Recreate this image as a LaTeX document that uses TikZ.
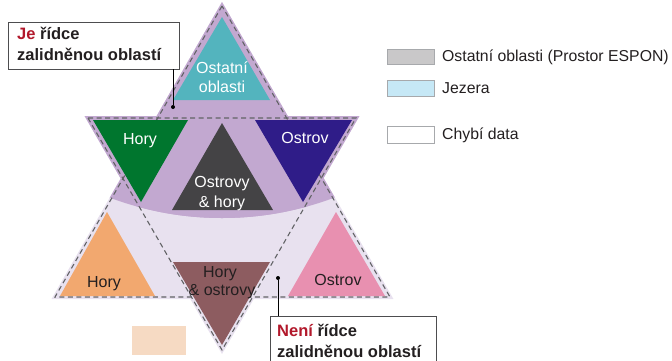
\documentclass[tikz,border=0pt]{standalone}
\usepackage{fontspec}
\setmainfont{Liberation Sans}
\definecolor{lilac}{HTML}{C2A8D0}
\definecolor{lav}{HTML}{E8E1EF}
\definecolor{teal1}{HTML}{53B4BE}
\definecolor{green1}{HTML}{00762E}
\definecolor{indigo1}{HTML}{2F1C88}
\definecolor{dgray}{HTML}{444345}
\definecolor{orange1}{HTML}{F2A86F}
\definecolor{brown1}{HTML}{8D5C60}
\definecolor{pink1}{HTML}{E890B0}
\definecolor{txt}{HTML}{231F20}
\definecolor{red1}{HTML}{B2182B}
\definecolor{dash1}{HTML}{626366}
\definecolor{leggray}{HTML}{C9C8C9}
\definecolor{legblue}{HTML}{C6E8F6}
\definecolor{legedge}{HTML}{A7A9AC}
\definecolor{peach}{HTML}{F6DAC3}
\definecolor{boxedge}{HTML}{4D4D4F}
\begin{document}
\begin{tikzpicture}[x=1pt,y=-1pt,
  lbl/.style={font=\fontsize{16}{19}\selectfont, inner sep=0pt, anchor=base},
  wlbl/.style={lbl, text=white},
  dlbl/.style={lbl, text=txt},
  leg/.style={font=\fontsize{15.8}{19}\selectfont, inner sep=0pt, anchor=west, text=txt},
  legbox/.style={draw=legedge, line width=0.6pt},
  callout/.style={font=\fontsize{16.5}{20}\selectfont\bfseries, inner sep=0pt, anchor=base west, text=txt},
  cbox/.style={draw=boxedge, line width=0.9pt, fill=white},
  dashline/.style={draw=dash1, line width=1.1pt, dash pattern=on 5pt off 3.5pt},
  leader/.style={draw=black, line width=0.9pt},
  dotnode/.style={circle, fill=black, inner sep=0pt, minimum size=4pt}]
\useasboundingbox (0,0) rectangle (672,360);
% big triangles
\coordinate (UA) at (222,6);
\coordinate (UB) at (55,297);
\coordinate (UC) at (390,297);
\coordinate (DP) at (88,118);
\coordinate (DQ) at (356,118);
\coordinate (DR) at (222,350);
% lavender base with soft border
\filldraw[fill=lav, draw=lav, line width=4pt, line join=miter] (UA) -- (UB) -- (UC) -- cycle;
\filldraw[fill=lav, draw=lav, line width=4pt, line join=miter] (DP) -- (DQ) -- (DR) -- cycle;
% purple region above the arc
\begin{scope}
  \clip (222,-100) circle[radius=318pt];
  \filldraw[fill=lilac, draw=lilac, line width=4pt, line join=miter] (UA) -- (UB) -- (UC) -- cycle;
  \filldraw[fill=lilac, draw=lilac, line width=4pt, line join=miter] (DP) -- (DQ) -- (DR) -- cycle;
\end{scope}
% dashed outlines
\draw[dashline] (UA) -- (UB) -- (UC) -- cycle;
\draw[dashline] (DP) -- (DQ) -- (DR) -- cycle;
% inner triangles
\fill[teal1] (222,17) -- (173,100) -- (270,100) -- cycle;
\fill[green1] (93,120) -- (188,120) -- (141,202) -- cycle;
\fill[indigo1] (255,120) -- (352,120) -- (303,202) -- cycle;
\fill[dgray] (222,123) -- (172,210) -- (273,210) -- cycle;
\fill[orange1] (107,212) -- (60,296) -- (155,296) -- cycle;
\fill[brown1] (173,262) -- (270,262) -- (222,345) -- cycle;
\fill[pink1] (336,212) -- (288,296) -- (385,296) -- cycle;
% labels
\node[wlbl] (ost1) at (222,73) {Ostatní};
\node[wlbl] (ost2) at (222,92) {oblasti};
\node[wlbl] (horyg) at (140,144) {Hory};
\node[wlbl] (ostrovi) at (305,143) {Ostrov};
\node[wlbl] (oh1) at (222,187) {Ostrovy};
\node[wlbl] (oh2) at (222,207) {\& hory};
\node[dlbl] (horyo) at (104,287) {Hory};
\node[dlbl] (ho1) at (220,277) {Hory};
\node[dlbl] (ho2) at (222,295) {\& ostrovy};
\node[dlbl] (ostrovp) at (338,285) {Ostrov};
% callout 1
\draw[cbox] (8,22) rectangle (179,69);
\node[callout] (c1a) at (17,39) {{\color{red1}Je} řídce};
\node[callout] (c1b) at (17,60) {zalidněnou oblastí};
\coordinate (c1top) at (173,69);
\node[dotnode] (c1dot) at (173,107) {};
\draw[leader] (c1top) -- (c1dot);
% callout 2
\draw[cbox] (270,316) rectangle (436,364);
\node[callout] (c2a) at (277,336) {{\color{red1}Není} řídce};
\node[callout] (c2b) at (277,357) {zalidněnou oblastí};
\coordinate (c2top) at (278,316);
\node[dotnode] (c2dot) at (278,278) {};
\draw[leader] (c2top) -- (c2dot);
% legend
\draw[legbox, fill=leggray] (387,49) rectangle (434,64);
\node[leg] (l1) at (442,57) {Ostatní oblasti (Prostor ESPON)};
\draw[legbox, fill=legblue] (387,80) rectangle (434,96);
\node[leg] (l2) at (442,88) {Jezera};
\draw[legbox, fill=white] (387,126) rectangle (434,143);
\node[leg] (l3) at (442,135) {Chybí data};
% peach swatch
\fill[peach] (132,326) rectangle (186,355);
\end{tikzpicture}
\end{document}
